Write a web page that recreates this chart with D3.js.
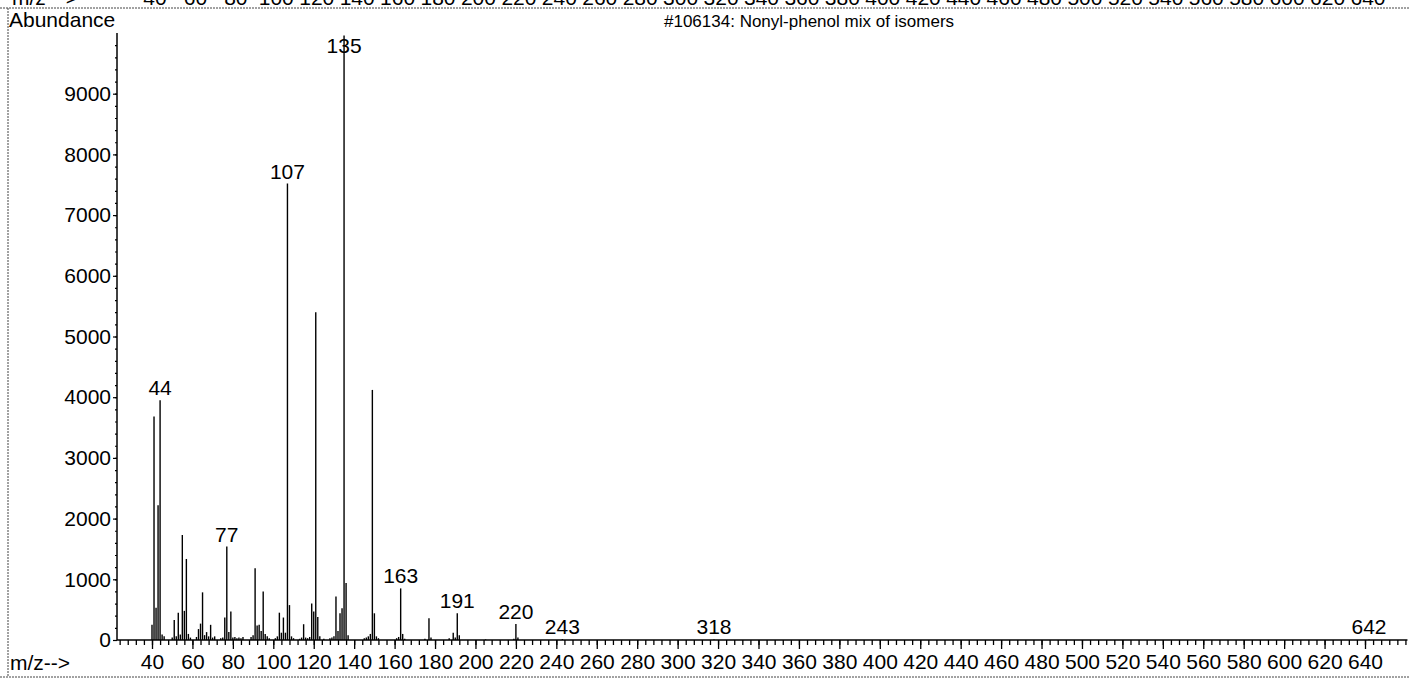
<!DOCTYPE html>
<html>
<head>
<meta charset="utf-8">
<script src="https://cdn.jsdelivr.net/npm/d3@7"></script>
<style>
  html, body { margin: 0; padding: 0; background: #fff; }
  svg { display: block; font-family: "Liberation Sans", Arial, Helvetica, sans-serif; }
</style>
</head>
<body>
<svg id="chart" width="1409" height="678"></svg>
<script>
// ---- data ----
const mzValues = [40,41,42,43,44,45,46,50,51,52,53,54,55,56,57,58,59,62,63,64,65,66,67,68,69,70,71,74,75,76,77,78,79,80,81,82,83,84,85,89,90,91,92,93,94,95,96,97,98,101,102,103,104,105,106,107,108,109,110,113,114,115,116,117,118,119,120,121,122,123,125,128,129,130,131,132,133,134,135,136,137,145,146,147,148,149,150,151,152,161,162,163,164,165,175,177,178,187,189,190,191,192,205,219,220,221,243,318,642];
const abundances = [250,3680,530,2220,3950,90,60,40,330,60,450,90,1730,480,1335,100,40,50,180,270,785,80,130,60,250,40,60,30,40,370,1540,130,470,40,50,30,40,30,50,50,80,1180,240,250,150,800,100,60,30,30,60,450,120,370,120,7520,575,60,30,20,40,260,40,30,50,600,470,5400,380,60,20,30,40,60,715,150,440,525,9960,940,80,30,40,60,100,4120,440,60,30,30,50,850,100,20,20,357,40,30,120,40,440,80,10,20,264,40,15,10,10];
const labeledPeaks = [44, 77, 107, 135, 163, 191, 220, 243, 318, 642];
const xMajorTicks = d3.range(40, 641, 20);
const xMinorTicks = d3.range(24, 661, 4);
const yMajorTicks = d3.range(0, 9001, 1000);
const yMinorTicks = d3.range(0, 9801, 200);
const titleText = "#106134: Nonyl-phenol mix of isomers";
const yAxisTitle = "Abundance";
const xAxisTitle = "m/z-->";

// ---- layout ----
const svg = d3.select("#chart");
const W = 1409, H = 678;
const FS = 21;
const axisX = 117, axisY = 640;
const x = d3.scaleLinear().domain([40, 640]).range([152, 1365]);
const y = d3.scaleLinear().domain([0, 10000]).range([axisY, 33]);

svg.append("rect").attr("width", W).attr("height", H).attr("fill", "#fff");

// frame (dashed scan lines)
const frame = svg.append("g").attr("stroke", "#444").attr("stroke-width", 1).attr("stroke-dasharray", "2,1");
frame.append("line").attr("x1", 0).attr("x2", W).attr("y1", 8).attr("y2", 8);
frame.append("line").attr("x1", 0).attr("x2", W).attr("y1", 677).attr("y2", 677);
frame.append("line").attr("x1", 8).attr("x2", 8).attr("y1", 8).attr("y2", 677);

// cut-off header row (previous page's axis labels, cropped by the scan)
const header = svg.append("g").attr("font-size", FS).attr("fill", "#000");
header.append("text").attr("x", 12).attr("y", 5).text("m/z -->");
header.selectAll("text.h").data(xMajorTicks).join("text").attr("class", "h")
  .attr("x", d => x(d) + 3).attr("y", 5).attr("text-anchor", "middle").text(d => d);

// titles
svg.append("text").attr("x", 9).attr("y", 27).attr("font-size", FS).text(yAxisTitle);
svg.append("text").attr("x", 664).attr("y", 27).attr("font-size", 17).text(titleText);
svg.append("text").attr("x", 10).attr("y", 670).attr("font-size", FS).text(xAxisTitle);

// x axis
const gx = svg.append("g").attr("transform", `translate(0,${axisY})`);
gx.append("g").call(d3.axisBottom(x).tickValues(xMinorTicks).tickSize(5).tickSizeOuter(0).tickFormat(""))
  .call(g => g.select(".domain").remove());
gx.append("g").call(d3.axisBottom(x).tickValues(xMajorTicks).tickSize(9).tickSizeOuter(0).tickPadding(5).tickFormat(d3.format("d")))
  .call(g => g.select(".domain").remove())
  .call(g => g.selectAll("text").attr("font-size", FS).attr("font-family", "Liberation Sans, Arial, sans-serif").attr("fill", "#000"));
gx.selectAll("line").attr("stroke", "#000").attr("stroke-width", 1.3);
gx.append("line").attr("x1", axisX).attr("x2", x(661)).attr("stroke", "#000").attr("stroke-width", 1.5);

// y axis
const gy = svg.append("g").attr("transform", `translate(${axisX},0)`);
gy.append("g").call(d3.axisLeft(y).tickValues(yMinorTicks).tickSize(2).tickSizeOuter(0).tickFormat(""))
  .call(g => g.select(".domain").remove());
gy.append("g").call(d3.axisLeft(y).tickValues(yMajorTicks).tickSize(4).tickSizeOuter(0).tickPadding(2).tickFormat(d3.format("d")))
  .call(g => g.select(".domain").remove())
  .call(g => g.selectAll("text").attr("font-size", FS).attr("font-family", "Liberation Sans, Arial, sans-serif").attr("fill", "#000"));
gy.selectAll("line").attr("stroke", "#000").attr("stroke-width", 1.2);
gy.append("line").attr("y1", y(10000)).attr("y2", axisY).attr("stroke", "#000").attr("stroke-width", 1.5);

// peaks
const peaks = mzValues.map((m, i) => ({ mz: m, ab: abundances[i] }));
svg.append("g").selectAll("line").data(peaks).join("line")
  .attr("x1", d => x(d.mz)).attr("x2", d => x(d.mz))
  .attr("y1", axisY).attr("y2", d => y(d.ab))
  .attr("stroke", "#000").attr("stroke-width", 1.4);

// peak labels
const lab = peaks.filter(d => labeledPeaks.includes(d.mz));
svg.append("g").selectAll("text").data(lab).join("text")
  .attr("x", d => x(d.mz))
  .attr("y", d => Math.max(53, Math.min(636, y(d.ab) - 5)))
  .attr("text-anchor", "middle").attr("font-size", FS).attr("fill", "#000")
  .text(d => d.mz);
</script>
</body>
</html>
